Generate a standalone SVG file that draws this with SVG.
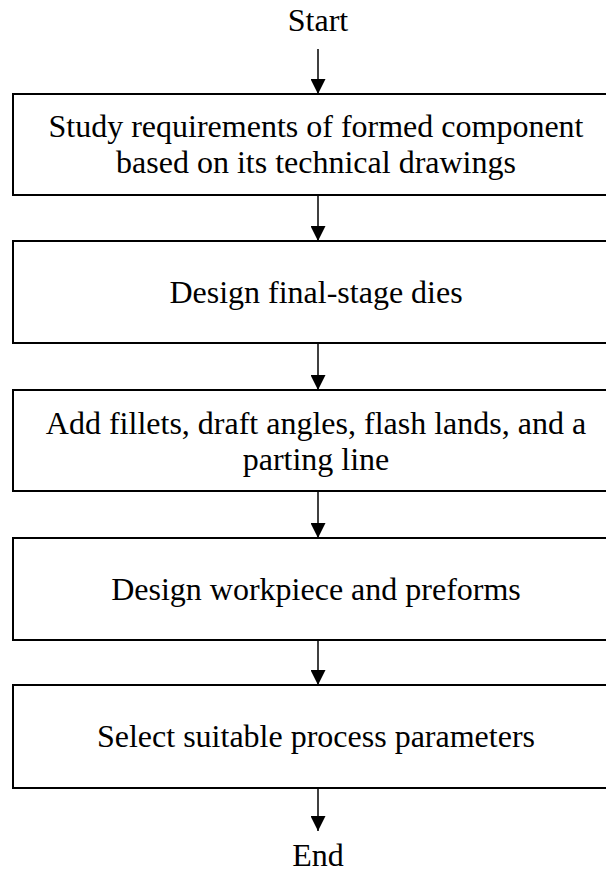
<svg xmlns="http://www.w3.org/2000/svg" width="606" height="876" viewBox="0 0 606 876">
<defs>
<style>
.box{fill:#fff;stroke:#000;stroke-width:2}
.t{font-family:"Liberation Serif","Times New Roman",serif;font-size:32px;fill:#000;text-anchor:middle}
.c{stroke:#000;stroke-width:1.5;fill:none}
</style>
<marker id="ah" viewBox="0 0 15 15" refX="15" refY="7.5" markerWidth="15" markerHeight="15" markerUnits="userSpaceOnUse" orient="auto">
<path d="M0,0 L15,7.5 L0,15 Z" fill="#000"/>
</marker>
</defs>
<rect width="606" height="876" fill="#fff"/>
<g id="start"><text class="t" x="318" y="31">Start</text></g>
<g id="n1"><rect class="box" x="13" y="94" width="610" height="101"/>
<text class="t" x="316" y="137">Study requirements of formed component</text>
<text class="t" x="316" y="173">based on its technical drawings</text></g>
<g id="n2"><rect class="box" x="13" y="241" width="610" height="102"/>
<text class="t" x="316" y="303">Design final-stage dies</text></g>
<g id="n3"><rect class="box" x="13" y="390" width="610" height="101"/>
<text class="t" x="316" y="434">Add fillets, draft angles, flash lands, and a</text>
<text class="t" x="316" y="470">parting line</text></g>
<g id="n4"><rect class="box" x="13" y="538" width="610" height="102"/>
<text class="t" x="316" y="600">Design workpiece and preforms</text></g>
<g id="n5"><rect class="box" x="13" y="685" width="610" height="103"/>
<text class="t" x="316" y="747">Select suitable process parameters</text></g>
<g id="end"><text class="t" x="318" y="866">End</text></g>
<g id="connectors">
<line class="c" x1="318" y1="49" x2="318" y2="94" marker-end="url(#ah)"/>
<line class="c" x1="318" y1="195" x2="318" y2="241" marker-end="url(#ah)"/>
<line class="c" x1="318" y1="343" x2="318" y2="390" marker-end="url(#ah)"/>
<line class="c" x1="318" y1="491" x2="318" y2="538" marker-end="url(#ah)"/>
<line class="c" x1="318" y1="640" x2="318" y2="685" marker-end="url(#ah)"/>
<line class="c" x1="318" y1="788" x2="318" y2="831" marker-end="url(#ah)"/>
</g>
</svg>
